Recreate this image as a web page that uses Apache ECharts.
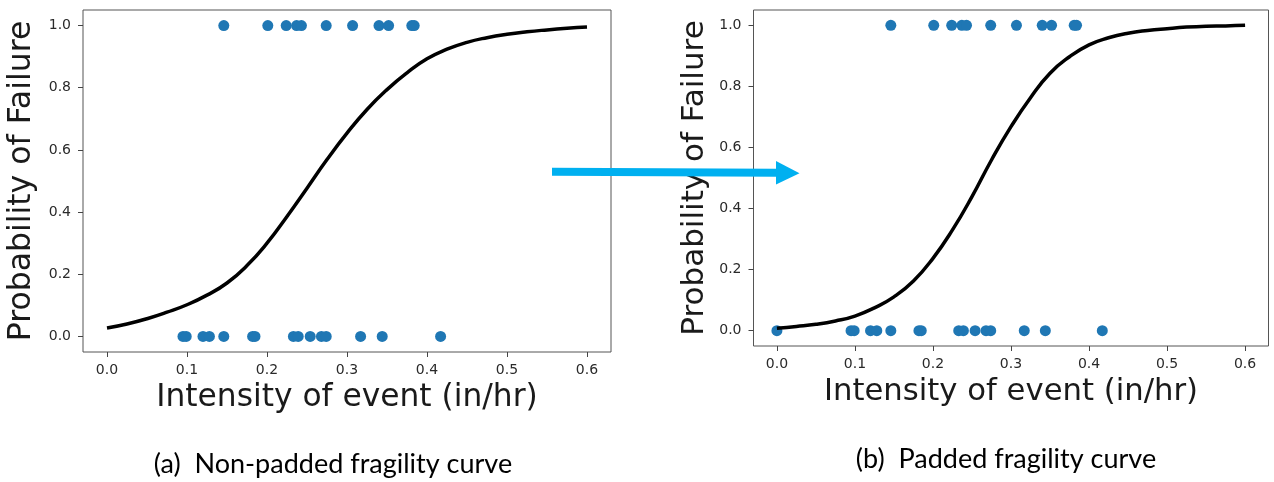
<!DOCTYPE html>
<html>
<head>
<meta charset="utf-8">
<script src="https://cdn.jsdelivr.net/npm/echarts@6/dist/echarts.min.js"></script>
<style>
  html, body { margin: 0; padding: 0; background: #fff; }
  #main { width: 1274px; height: 482px; }
</style>
</head>
<body>
<div id="main"></div>
<script>
// tick positions
var xTicks = [0, 0.1, 0.2, 0.3, 0.4, 0.5, 0.6];
var yTicks = [0, 0.2, 0.4, 0.6, 0.8, 1.0];

// observed events: failures (1.0) and non-failures (0.0), intensity in in/hr
var failedIntensity = [0.146, 0.201, 0.224, 0.237, 0.243, 0.274, 0.307, 0.340, 0.352, 0.381, 0.384];
var survivedIntensity = [0.095, 0.099, 0.120, 0.128, 0.146, 0.182, 0.185, 0.233, 0.239, 0.254, 0.268, 0.274, 0.317, 0.344, 0.417];
// padded set adds a zero-intensity non-failure
var paddedSurvivedIntensity = [0.0, 0.095, 0.099, 0.120, 0.128, 0.146, 0.182, 0.185, 0.233, 0.239, 0.254, 0.268, 0.274, 0.317, 0.344, 0.417];

// fitted fragility curves
var curveX = [0, 0.025, 0.05, 0.075, 0.1, 0.125, 0.15, 0.175, 0.2, 0.225, 0.25, 0.275, 0.3,
              0.325, 0.35, 0.375, 0.4, 0.425, 0.45, 0.475, 0.5, 0.525, 0.55, 0.575, 0.6];
var curveNonPadded = [0.027, 0.040, 0.057, 0.078, 0.102, 0.133, 0.172, 0.228, 0.300, 0.386, 0.477, 0.569, 0.654,
                      0.730, 0.794, 0.848, 0.893, 0.924, 0.946, 0.961, 0.972, 0.980, 0.986, 0.991, 0.995];
var curvePadded = [0.008, 0.014, 0.021, 0.032, 0.048, 0.075, 0.111, 0.163, 0.237, 0.330, 0.439, 0.559, 0.668,
                   0.763, 0.843, 0.897, 0.936, 0.959, 0.974, 0.983, 0.989, 0.994, 0.997, 0.998, 1.0];

var myChart = echarts.init(document.getElementById('main'));

var axisFont = 'DejaVu Sans';
var dotColor = '#1f77b4';

function points(xs, y) {
    return xs.map(function (x) { return [x, y]; });
}

function pairs(xs, ys) {
    return xs.map(function (x, i) { return [x, ys[i]]; });
}

function xAxisFor(idx, nameGap, nameSize) {
    return {
        type: 'value',
        gridIndex: idx,
        min: -0.03,
        max: 0.63,
        name: 'Intensity of event (in/hr)',
        nameLocation: 'middle',
        nameGap: nameGap,
        nameTextStyle: { fontFamily: axisFont, fontSize: nameSize, color: '#1a1a1a' },
        axisLine: { show: false, onZero: false },
        splitLine: { show: false },
        axisTick: { show: true, length: 5, lineStyle: { color: '#444' }, customValues: xTicks },
        axisLabel: {
            customValues: xTicks,
            margin: 11,
            fontFamily: axisFont,
            fontSize: 14,
            color: '#2a2a2a',
            formatter: function (v) { return v.toFixed(1); }
        }
    };
}

function yAxisFor(idx, nameGap, nameSize) {
    return {
        type: 'value',
        gridIndex: idx,
        min: -0.05,
        max: 1.05,
        name: 'Probability of Failure',
        nameLocation: 'middle',
        nameGap: nameGap,
        nameTextStyle: { fontFamily: axisFont, fontSize: nameSize, color: '#1a1a1a' },
        axisLine: { show: false, onZero: false },
        splitLine: { show: false },
        axisTick: { show: true, length: 5, lineStyle: { color: '#444' }, customValues: yTicks },
        axisLabel: {
            customValues: yTicks,
            margin: 12,
            fontFamily: axisFont,
            fontSize: 14,
            color: '#2a2a2a',
            formatter: function (v) { return v.toFixed(1); }
        }
    };
}

option = {
    backgroundColor: '#fff',
    animation: false,
    grid: [
        { left: 83, top: 10, width: 528, height: 342, show: true, borderColor: '#555', borderWidth: 1 },
        { left: 753.5, top: 10, width: 515, height: 336, show: true, borderColor: '#555', borderWidth: 1 }
    ],
    xAxis: [xAxisFor(0, 30, 31.3), xAxisFor(1, 31, 30.7)],
    yAxis: [yAxisFor(0, 45, 31.5), yAxisFor(1, 43, 31)],
    series: [
        {
            type: 'scatter', xAxisIndex: 0, yAxisIndex: 0,
            symbolSize: 11, itemStyle: { color: dotColor, opacity: 1 },
            data: points(failedIntensity, 1)
        },
        {
            type: 'scatter', xAxisIndex: 0, yAxisIndex: 0,
            symbolSize: 11, itemStyle: { color: dotColor, opacity: 1 },
            data: points(survivedIntensity, 0)
        },
        {
            type: 'line', xAxisIndex: 0, yAxisIndex: 0, z: 3,
            smooth: 0.5, showSymbol: false,
            lineStyle: { color: '#000', width: 3.5 },
            data: pairs(curveX, curveNonPadded)
        },
        {
            type: 'scatter', xAxisIndex: 1, yAxisIndex: 1,
            symbolSize: 11, itemStyle: { color: dotColor, opacity: 1 },
            data: points(failedIntensity, 1)
        },
        {
            type: 'scatter', xAxisIndex: 1, yAxisIndex: 1,
            symbolSize: 11, itemStyle: { color: dotColor, opacity: 1 },
            data: points(paddedSurvivedIntensity, 0)
        },
        {
            type: 'line', xAxisIndex: 1, yAxisIndex: 1, z: 3,
            smooth: 0.5, showSymbol: false,
            lineStyle: { color: '#000', width: 3.5 },
            data: pairs(curveX, curvePadded)
        }
    ],
    graphic: [
        // blue arrow between the two panels
        {
            type: 'polygon', z: 10,
            shape: { points: [[552, 167.7], [777, 168.8], [777, 176.8], [552, 175.7]] },
            style: { fill: '#00b0f0' }
        },
        {
            type: 'polygon', z: 10,
            shape: { points: [[776, 161], [799.5, 173.3], [776, 184.5]] },
            style: { fill: '#00b0f0' }
        },
        {
            type: 'text', x: 333, y: 464,
            style: {
                text: '(a)  Non-padded fragility curve',
                fontFamily: 'Lato', fontSize: 27, fill: '#000',
                textAlign: 'center', textVerticalAlign: 'middle'
            }
        },
        {
            type: 'text', x: 1006, y: 459,
            style: {
                text: '(b)  Padded fragility curve',
                fontFamily: 'Lato', fontSize: 27, fill: '#000',
                textAlign: 'center', textVerticalAlign: 'middle'
            }
        }
    ]
};

myChart.setOption(option);
</script>
</body>
</html>
